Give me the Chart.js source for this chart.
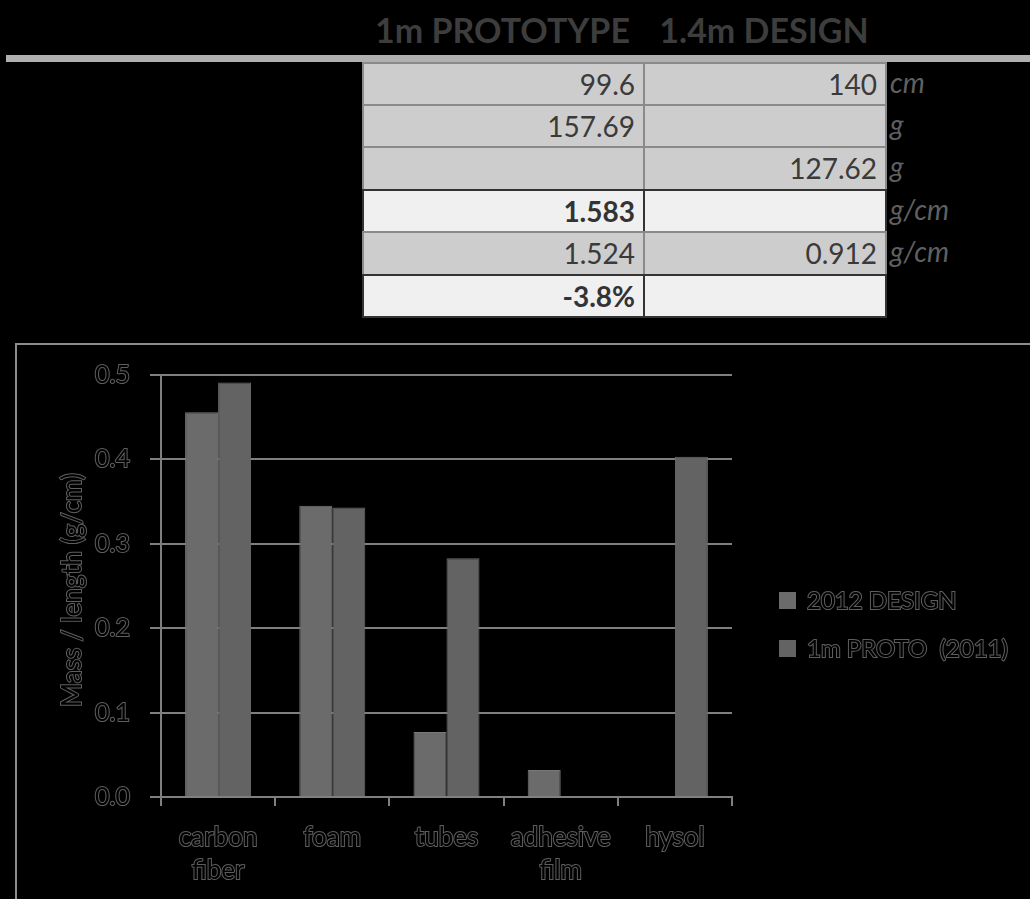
<!DOCTYPE html>
<html>
<head>
<meta charset="utf-8">
<script src="https://cdn.jsdelivr.net/npm/chart.js@4/dist/chart.umd.min.js"></script>
<style>
  html, body { margin: 0; padding: 0; background: #000; }
  body { width: 1030px; height: 899px; position: relative; overflow: hidden; font-family: Lato, "Open Sans", sans-serif; }
  .hdr { position: absolute; top: 10px; height: 40px; line-height: 40px; font-size: 34px; font-weight: bold; color: #3d3d3d; text-align: center; white-space: nowrap; }
  .rule { position: absolute; left: 6px; right: 0; top: 55px; height: 7px; background: #b0b0b0; }
  .cell { position: absolute; box-sizing: border-box; border: 2px solid #8a8a8a; background: #cdcdcd; color: #3a3a3a; font-size: 28px; text-align: right; padding-right: 8px; white-space: nowrap; }
  .cell.hi { background: #f0f0f0; border-color: #333; font-weight: bold; color: #333; }
  .unit { position: absolute; left: 890px; font-size: 28px; font-style: italic; color: #606060; white-space: nowrap; }
  .frame { position: absolute; left: 15px; top: 343px; width: 1015px; height: 556px; border-top: 2px solid #8c8c8c; border-left: 2px solid #8c8c8c; box-sizing: border-box; }
  #chart { position: absolute; left: 17px; top: 345px; }
</style>
</head>
<body>
<div id="sheet"></div>
<div class="frame"></div>
<canvas id="chart" width="1013" height="554"></canvas>
<script>
// Summary table
const tableHeaders = ['1m PROTOTYPE', '1.4m DESIGN'];
const prototypeCol = ['99.6', '157.69', '', '1.583', '1.524', '-3.8%'];
const designCol = ['140', '', '127.62', '', '0.912', ''];
const unitCol = ['cm', 'g', 'g', 'g/cm', 'g/cm', ''];
const boldRows = [3, 5];

// Mass per unit length by component (g/cm)
const categories = [['carbon', 'fiber'], 'foam', 'tubes', ['adhesive', 'film'], 'hysol'];
const seriesNames = ['2012 DESIGN', '1m PROTO  (2011)'];
const design2012 = [0.456, 0.345, 0.077, 0.032, null];
const proto2011 = [0.491, 0.343, 0.283, null, 0.403];
const axisTitle = 'Mass / length (g/cm)';

// ---- spreadsheet block ----
const colX = [362, 643, 885];
const rowY = [62, 104, 146, 189, 231, 274, 316];
const sheet = document.getElementById('sheet');
function add(cls, style, text) {
  const d = document.createElement('div');
  d.className = cls;
  Object.assign(d.style, style);
  d.textContent = text;
  sheet.appendChild(d);
  return d;
}
tableHeaders.forEach((h, i) => {
  add('hdr', { left: colX[i] + 'px', width: (colX[i + 1] - colX[i]) + 'px' }, h);
});
add('rule', {}, '');
const cols = [prototypeCol, designCol];
for (let r = 0; r < prototypeCol.length; r++) {
  const h = rowY[r + 1] - rowY[r] + 2;
  const hi = boldRows.includes(r);
  cols.forEach((col, c) => {
    add('cell' + (hi ? ' hi' : ''), {
      left: colX[c] + 'px', top: rowY[r] + 'px',
      width: (colX[c + 1] - colX[c] + 2) + 'px', height: h + 'px',
      lineHeight: (h - 4) + 'px'
    }, col[r]);
  });
  add('unit', { top: rowY[r] + 'px', height: h + 'px', lineHeight: (h - 4) + 'px' }, unitCol[r]);
}

// ---- chart ----
const gridGray = '#7f7f7f';
const outlineGray = '#5e5e5e';

function outlinedText(ctx, text, x, y) {
  ctx.lineWidth = 2;
  ctx.strokeStyle = outlineGray;
  ctx.strokeText(text, x, y);
  ctx.fillStyle = '#000';
  ctx.fillText(text, x, y);
}

// y-axis title and legend, drawn with the same outlined lettering as the ticks
const decorations = {
  id: 'decorations',
  afterDraw(chart) {
    const ctx = chart.ctx;
    const area = chart.chartArea;
    ctx.save();
    ctx.font = '26px Lato';
    ctx.textAlign = 'center';
    ctx.textBaseline = 'middle';
    ctx.translate(56, (area.top + area.bottom) / 2 + 4);
    ctx.rotate(-Math.PI / 2);
    outlinedText(ctx, axisTitle, 0, 0);
    ctx.restore();

    ctx.save();
    ctx.font = '24px Lato';
    ctx.textAlign = 'left';
    ctx.textBaseline = 'middle';
    chart.data.datasets.forEach((ds, i) => {
      const bx = area.right + 47;
      const by = 247 + i * 48;
      ctx.fillStyle = ds.backgroundColor;
      ctx.fillRect(bx, by, 17, 17);
      outlinedText(ctx, ds.label, bx + 28, by + 9);
    });
    ctx.restore();
  }
};

function build() {
  new Chart(document.getElementById('chart'), {
    type: 'bar',
    data: {
      labels: categories,
      datasets: [
        { label: seriesNames[0], data: design2012, backgroundColor: '#6b6b6b', borderColor: '#787878', borderWidth: 1 },
        { label: seriesNames[1], data: proto2011, backgroundColor: '#636363', borderColor: '#6c6c6c', borderWidth: 1 }
      ]
    },
    options: {
      responsive: false,
      animation: false,
      events: [],
      categoryPercentage: 0.578,
      barPercentage: 1,
      layout: { padding: { left: 0, top: 30, right: 298, bottom: 0 } },
      plugins: { legend: { display: false }, tooltip: { enabled: false } },
      scales: {
        x: {
          afterFit: s => { s.height = 102; s.paddingLeft = 0; s.paddingRight = 0; },
          grid: { offset: true, drawOnChartArea: false, drawTicks: true, tickLength: 9, color: gridGray, lineWidth: 2 },
          border: { display: true, color: gridGray, width: 2 },
          ticks: {
            padding: 15,
            color: '#000',
            textStrokeColor: outlineGray,
            textStrokeWidth: 2,
            maxRotation: 0,
            autoSkip: false,
            font: { family: 'Lato', size: 26, lineHeight: 1.27 }
          }
        },
        y: {
          min: 0,
          max: 0.5,
          afterFit: s => { s.width = 144; s.paddingTop = 0; s.paddingBottom = 0; },
          grid: { color: gridGray, lineWidth: 2, drawTicks: true, tickLength: 11 },
          border: { display: true, color: gridGray, width: 2 },
          ticks: {
            stepSize: 0.1,
            padding: 20,
            color: '#000',
            textStrokeColor: outlineGray,
            textStrokeWidth: 2,
            font: { family: 'Lato', size: 25 },
            callback: v => Number(v).toFixed(1)
          }
        }
      }
    },
    plugins: [decorations]
  });
}

if (document.fonts && document.fonts.load) {
  Promise.all([document.fonts.load('26px Lato'), document.fonts.load('bold 34px Lato')]).then(build, build);
} else {
  build();
}
</script>
</body>
</html>
